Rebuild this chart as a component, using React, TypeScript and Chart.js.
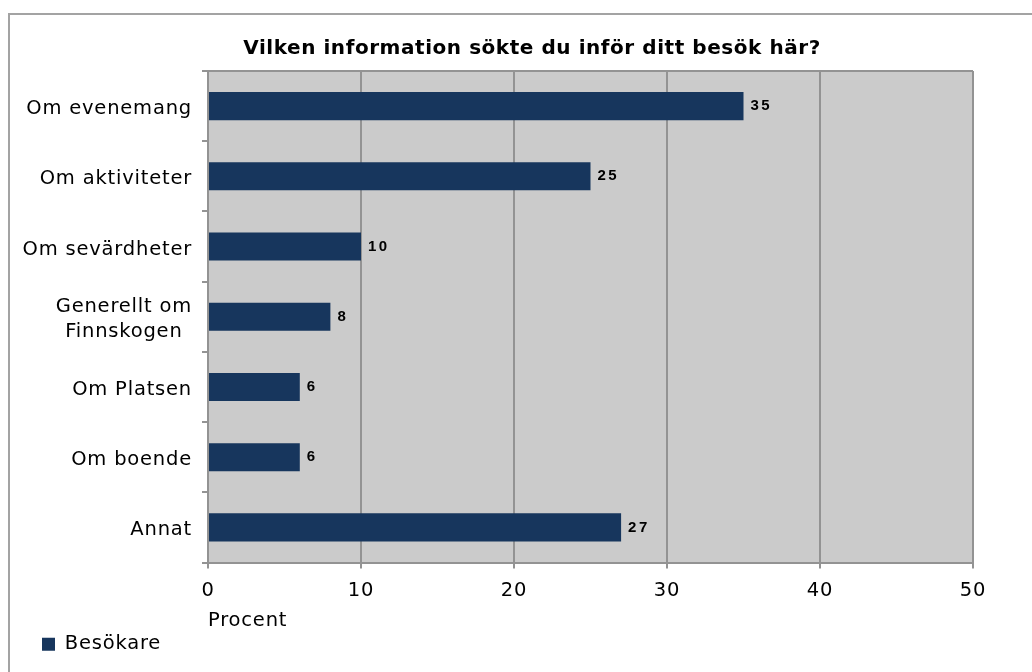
import React, { useEffect, useRef } from "react";
import { Chart, registerables } from "chart.js";

Chart.register(...registerables);

// ---- data ----
const chartTitle = "Vilken information sökte du inför ditt besök här?";
const categories = [
  "Om evenemang",
  "Om aktiviteter",
  "Om sevärdheter",
  "Generellt om\nFinnskogen",
  "Om Platsen",
  "Om boende",
  "Annat",
];
const seriesName = "Besökare";
const seriesValues = [35, 25, 10, 8, 6, 6, 27];
const axisTitle = "Procent";
const axisMin = 0;
const axisMax = 50;
const axisStep = 10;

// ---- styles ----
const FONT = "'DejaVu Sans', Verdana, sans-serif";
const BAR = "#17365D";
const PLOT_BG = "#cbcbcb";
const GRID = "#939393";
const SPACING = "0.8px";

const plotBgPlugin = {
  id: "plotBg",
  beforeDraw(chart: any) {
    const { ctx, chartArea: a } = chart;
    (ctx as any).letterSpacing = SPACING;
    ctx.save();
    ctx.fillStyle = PLOT_BG;
    ctx.fillRect(a.left, a.top, a.right - a.left, a.bottom - a.top);
    ctx.restore();
  },
  afterDraw(chart: any) {
    const { ctx, chartArea: a } = chart;
    ctx.save();
    ctx.strokeStyle = GRID;
    ctx.lineWidth = 2;
    ctx.beginPath();
    ctx.moveTo(a.left, a.top);
    ctx.lineTo(a.right, a.top);
    ctx.stroke();
    ctx.restore();
  },
};

const titlePlugin = {
  id: "customTitle",
  afterDraw(chart: any) {
    const { ctx } = chart;
    ctx.save();
    (ctx as any).letterSpacing = "0.55px";
    ctx.font = `bold 20px ${FONT}`;
    ctx.fillStyle = "#000";
    ctx.textAlign = "center";
    ctx.textBaseline = "alphabetic";
    ctx.fillText(chartTitle, 532, 54);
    ctx.restore();
  },
};

const categoryLabelPlugin = {
  id: "categoryLabels",
  afterDraw(chart: any) {
    const { ctx, chartArea } = chart;
    const yScale = chart.scales.y;
    ctx.save();
    (ctx as any).letterSpacing = SPACING;
    ctx.font = `19.5px ${FONT}`;
    ctx.fillStyle = "#000";
    ctx.textBaseline = "alphabetic";
    ctx.textAlign = "center";
    const right = chartArea.left - 16;
    const lh = 25;
    categories.forEach((cat, i) => {
      const lines = cat.split("\n");
      const w = Math.max(...lines.map((l) => ctx.measureText(l).width));
      const cy = yScale.getPixelForValue(i);
      lines.forEach((line, j) => {
        const y = cy + 8 + (j - (lines.length - 1) / 2) * lh;
        ctx.fillText(line, right - w / 2, y);
      });
    });
    ctx.restore();
  },
};

const valueLabelPlugin = {
  id: "valueLabels",
  afterDatasetsDraw(chart: any) {
    const { ctx } = chart;
    const meta = chart.getDatasetMeta(0);
    ctx.save();
    ctx.font = `bold 15px 'Liberation Sans', Arial, sans-serif`;
    (ctx as any).letterSpacing = "2.5px";
    ctx.fillStyle = "#000";
    ctx.textAlign = "left";
    ctx.textBaseline = "middle";
    meta.data.forEach((bar: any, i: number) => {
      ctx.fillText(String(seriesValues[i]), bar.x + 7, bar.y);
    });
    ctx.restore();
  },
};

export default function App() {
  const ref = useRef<HTMLCanvasElement>(null);

  useEffect(() => {
    if (!ref.current) return;
    const chart = new Chart(ref.current, {
      type: "bar",
      data: {
        labels: categories,
        datasets: [
          {
            label: seriesName,
            data: seriesValues,
            backgroundColor: BAR,
            borderWidth: 0,
            barPercentage: 0.4,
            categoryPercentage: 1,
          },
        ],
      },
      options: {
        indexAxis: "y",
        responsive: false,
        animation: false,
        layout: { padding: { left: 32, right: 59, top: 71, bottom: 8 } },
        scales: {
          x: {
            min: axisMin,
            max: axisMax,
            ticks: {
              stepSize: axisStep,
              color: "#000",
              font: { family: FONT, size: 19.5 },
              padding: 11,
              maxRotation: 0,
            },
            grid: { color: GRID, lineWidth: 2, tickLength: 6, drawTicks: true },
            border: { color: GRID, width: 2 },
            title: {
              display: true,
              text: axisTitle,
              align: "start",
              color: "#000",
              font: { family: FONT, size: 19.5 },
              padding: { top: 0, bottom: -8 },
            },
            afterFit: (s: any) => {
              s.height = 62;
            },
          },
          y: {
            ticks: { display: false },
            grid: {
              drawOnChartArea: false,
              color: GRID,
              lineWidth: 2,
              tickLength: 6,
              offset: true,
            },
            border: { color: GRID, width: 2 },
            afterFit: (s: any) => {
              s.width = 176;
            },
          },
        },
        plugins: {
          legend: {
            position: "bottom",
            align: "start",
            labels: {
              boxWidth: 13,
              boxHeight: 13,
              padding: 10,
              color: "#000",
              font: { family: FONT, size: 19.5 },
            },
          },
          tooltip: { enabled: false },
          title: { display: false },
        },
      },
      plugins: [plotBgPlugin, categoryLabelPlugin, valueLabelPlugin, titlePlugin],
    } as any);
    return () => chart.destroy();
  }, []);

  return (
    <>
      <div
        style={{
          position: "fixed",
          left: 8,
          top: 13,
          right: 0,
          bottom: 0,
          borderTop: "2px solid #a3a3a3",
          borderLeft: "2px solid #a3a3a3",
          pointerEvents: "none",
        }}
      />
      <div style={{ position: "fixed", left: 0, top: 0, width: 1032, height: 672 }}>
        <canvas ref={ref} width={1032} height={672} style={{ display: "block" }} />
      </div>
    </>
  );
}
